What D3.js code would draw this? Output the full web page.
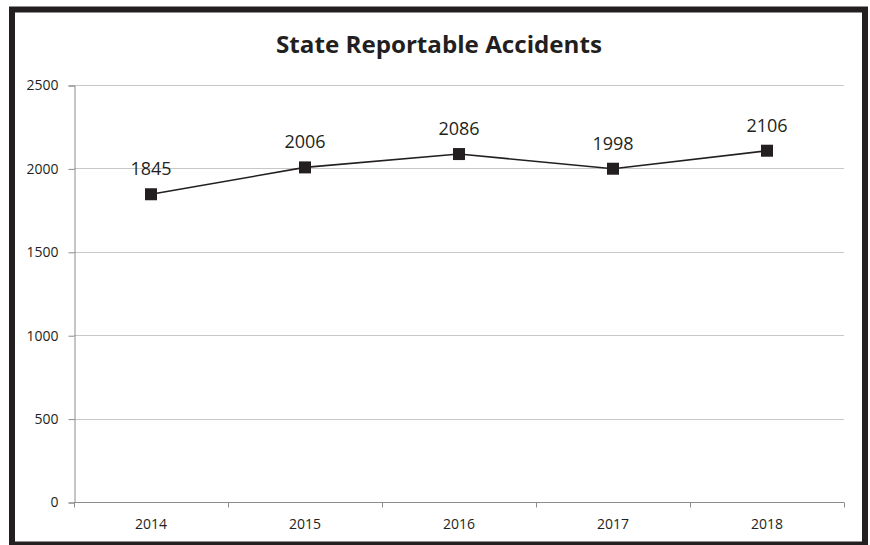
<!DOCTYPE html>
<html>
<head>
<meta charset="utf-8">
<script src="https://cdn.jsdelivr.net/npm/d3@7"></script>
<style>
  body { margin: 0; background: #fff; }
  svg { display: block; }
  text { font-family: "Open Sans", sans-serif; fill: #231f20; }
</style>
</head>
<body>
<svg id="chart" width="870" height="545"></svg>
<script>
const years = ["2014", "2015", "2016", "2017", "2018"];
const accidents = [1845, 2006, 2086, 1998, 2106];
const yTicks = [0, 500, 1000, 1500, 2000, 2500];

const svg = d3.select("#chart");
const margin = { top: 85, right: 26, bottom: 43, left: 74 };
const width = 870, height = 545;

// outer frame
svg.append("rect")
    .attr("x", 12).attr("y", 9.5)
    .attr("width", 853).attr("height", 535)
    .attr("fill", "none")
    .attr("stroke", "#231f20")
    .attr("stroke-width", 6);

svg.append("text")
    .attr("x", 439).attr("y", 53)
    .attr("text-anchor", "middle")
    .attr("font-size", 24)
    .attr("font-weight", "bold")
    .attr("textLength", 326)
    .attr("lengthAdjust", "spacingAndGlyphs")
    .text("State Reportable Accidents");

const x = d3.scaleBand().domain(years)
    .range([margin.left, width - margin.right]);
const y = d3.scaleLinear().domain([0, 2500])
    .range([height - margin.bottom, margin.top]);

// gridlines
svg.append("g")
    .selectAll("line")
    .data(yTicks.filter(d => d > 0))
    .join("line")
    .attr("x1", margin.left).attr("x2", width - margin.right)
    .attr("y1", d => Math.round(y(d)) + 0.5)
    .attr("y2", d => Math.round(y(d)) + 0.5)
    .attr("stroke", "#c8c8c8")
    .attr("stroke-width", 1);

// y axis
const yAxis = svg.append("g")
    .attr("transform", `translate(${margin.left + 0.5},0.5)`)
    .call(d3.axisLeft(y).tickValues(yTicks).tickSize(6).tickPadding(10).tickFormat(d3.format("d")));
yAxis.selectAll("path, line").attr("stroke", "#8c8c8c");
yAxis.selectAll("text").attr("font-size", 14).attr("font-family", "Open Sans").attr("fill", "#231f20");

// x axis with ticks at category boundaries
const xAxisY = height - margin.bottom;
const xg = svg.append("g").attr("transform", `translate(0,${xAxisY + 0.5})`);
xg.append("line")
    .attr("x1", margin.left).attr("x2", width - margin.right)
    .attr("stroke", "#8c8c8c");
const bounds = years.map(d => x(d)).concat([x(years[years.length - 1]) + x.bandwidth()]);
xg.selectAll(".tk")
    .data(bounds)
    .join("line")
    .attr("class", "tk")
    .attr("x1", d => Math.round(d) + 0.5).attr("x2", d => Math.round(d) + 0.5)
    .attr("y1", 0).attr("y2", 5)
    .attr("stroke", "#8c8c8c");
xg.selectAll(".lbl")
    .data(years)
    .join("text")
    .attr("class", "lbl")
    .attr("x", d => x(d) + x.bandwidth() / 2)
    .attr("y", 26)
    .attr("text-anchor", "middle")
    .attr("font-size", 14)
    .text(d => d);

// series
const pts = years.map((d, i) => ({ year: d, value: accidents[i] }));
const cx = d => x(d.year) + x.bandwidth() / 2;

svg.append("path")
    .datum(pts)
    .attr("fill", "none")
    .attr("stroke", "#231f20")
    .attr("stroke-width", 1.6)
    .attr("d", d3.line().x(cx).y(d => y(d.value)));

svg.append("g")
    .selectAll("rect")
    .data(pts)
    .join("rect")
    .attr("x", d => cx(d) - 6)
    .attr("y", d => y(d.value) - 6)
    .attr("width", 12).attr("height", 12)
    .attr("fill", "#231f20");

svg.append("g")
    .selectAll("text")
    .data(pts)
    .join("text")
    .attr("x", cx)
    .attr("y", d => y(d.value) - 19)
    .attr("text-anchor", "middle")
    .attr("font-size", 18)
    .text(d => d.value);
</script>
</body>
</html>
